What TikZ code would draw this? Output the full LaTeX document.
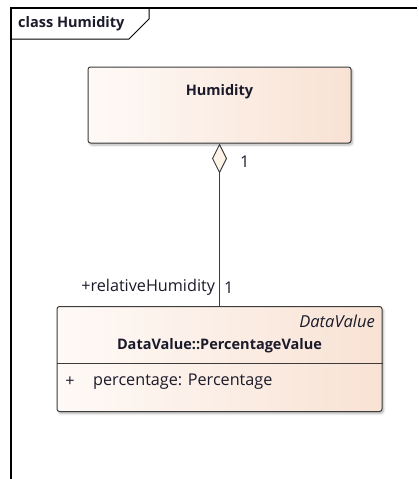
\documentclass[tikz,border=0pt]{standalone}
\usepackage{fontspec}
\setmainfont{Open Sans}
\usepackage{xcolor}
\usetikzlibrary{arrows.meta, positioning, shadows.blur}

\definecolor{boxleft}{HTML}{FFFAF7}
\definecolor{boxright}{HTML}{F8E2D4}
\definecolor{diafill}{HTML}{FDF3E6}
\definecolor{umlline}{HTML}{3C3C3C}
\definecolor{umltext}{HTML}{1A1A2A}

\tikzset{
    umlbox/.style={draw=umlline, line width=1pt, rounded corners=2.5pt,
        left color=boxleft, right color=boxright,
        blur shadow={shadow xshift=1.5pt, shadow yshift=-2pt, shadow blur steps=6, shadow opacity=30}},
    umllabel/.style={text=umltext, inner sep=1pt, font=\fontsize{16.2}{19}\selectfont},
    umlbold/.style={umllabel, font=\fontsize{14.5}{17}\selectfont\bfseries},
    aggr/.style={draw=umlline, line width=1pt,
        -{Diamond[length=30pt, width=15pt, fill=diafill]}}
}

\begin{document}
\begin{tikzpicture}[x=1pt, y=-1pt]
    \useasboundingbox (0,0) rectangle (419,479);

    % diagram frame
    \draw [line width=1.2pt] (11,479) -- (11,8) -- (417,8);
    \draw [line width=1pt] (11,39) -- (129,39) -- (149,19) -- (149,8);
    \node [umlbold, anchor=west] (title) at (17,24) {class Humidity};

    % classes
    \node [umlbox, minimum width=263pt, minimum height=76pt] (humid) at (219.5,105) {};
    \node [umlbold] (humidname) at (219.5,92) {Humidity};

    \node [umlbox, minimum width=325pt, minimum height=105pt] (pv) at (219.5,359) {};
    \node [umllabel, anchor=east, font=\fontsize{16.5}{19}\selectfont\itshape] (stereo) at (376,321) {DataValue};
    \node [umlbold] (pvname) at (219.5,346) {DataValue::PercentageValue};
    \draw [draw=umlline, line width=1pt] ([yshift=-57.5pt]pv.north west) -- ([yshift=-57.5pt]pv.north east);
    \node [umllabel] (vis) at (70,382) {+};
    \node [umllabel, anchor=west] (attr) at (92,382) {percentage: Percentage};

    % aggregation
    \draw [aggr] (pv.north) -- node [umllabel, pos=0.113, left=3pt] {+relativeHumidity}
        node [umllabel, pos=0.113, right=3pt] {1}
        node [umllabel, pos=0.89, right=19pt] {1} (humid.south);
\end{tikzpicture}
\end{document}
